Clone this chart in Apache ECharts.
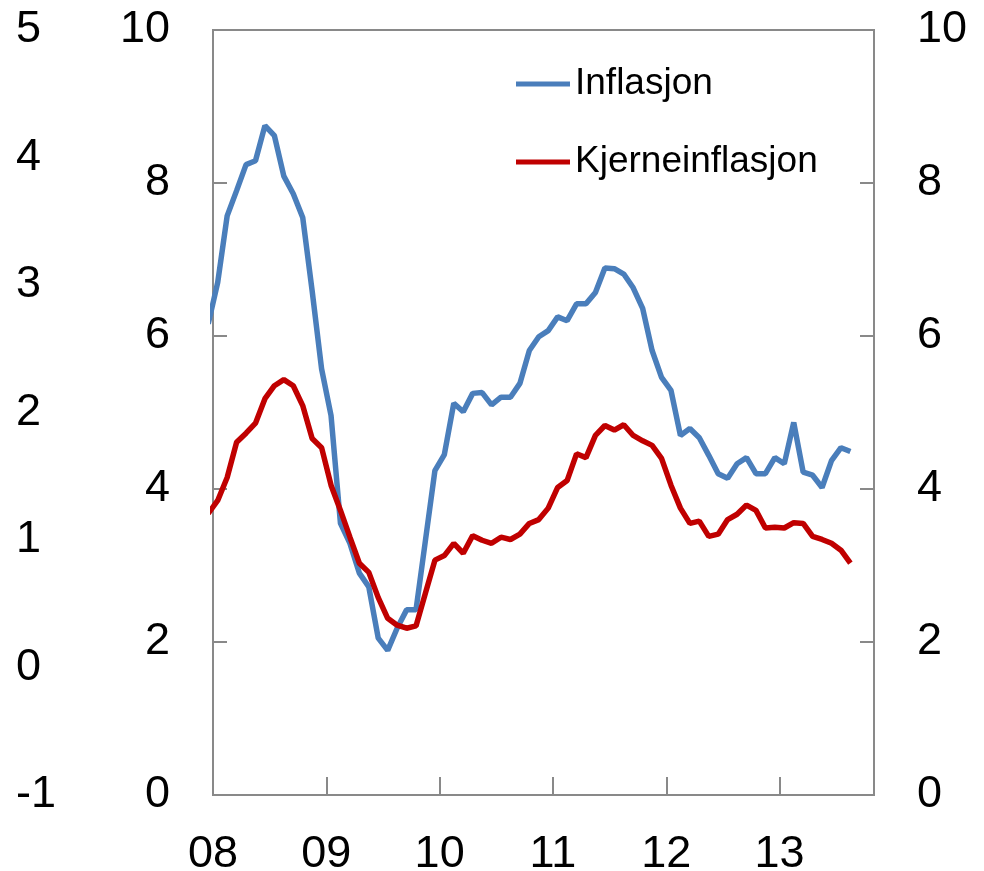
<!DOCTYPE html>
<html>
<head>
<meta charset="utf-8">
<script src="https://cdn.jsdelivr.net/npm/echarts@6/dist/echarts.min.js"></script>
<style>
html, body { margin: 0; padding: 0; background: #fff; }
#chart { width: 984px; height: 871px; }
</style>
</head>
<body>
<div id="chart"></div>
<script>
// årstall under x-aksen (en etikett per januar)
let aarEtiketter = ['08', '09', '10', '11', '12', '13'];

// månedlige tall fra des 2007 til aug 2013
let forsteMaaned = -1; // des 2007, målt i måneder fra jan 2008

let inflasjon = [
    6.16,
    6.70, 7.57, 7.90, 8.24, 8.29, 8.75, 8.62, 8.09, 7.86, 7.55, 6.59, 5.57,
    4.96, 3.55, 3.29, 2.90, 2.72, 2.05, 1.89, 2.18, 2.42, 2.42, 3.33, 4.24,
    4.45, 5.12, 5.01, 5.25, 5.26, 5.10, 5.20, 5.20, 5.38, 5.81, 5.99, 6.07,
    6.25, 6.20, 6.42, 6.42, 6.57, 6.89, 6.88, 6.81, 6.63, 6.36, 5.81, 5.46,
    5.29, 4.70, 4.79, 4.67, 4.44, 4.20, 4.14, 4.33, 4.41, 4.20, 4.20, 4.41,
    4.33, 4.87, 4.22, 4.18, 4.02, 4.37, 4.54, 4.49
];

let kjerneinflasjon = [
    3.68,
    3.85, 4.15, 4.61, 4.73, 4.86, 5.18, 5.35, 5.43, 5.35, 5.09, 4.66, 4.54,
    4.05, 3.72, 3.37, 3.03, 2.91, 2.58, 2.31, 2.22, 2.18, 2.21, 2.64, 3.07,
    3.13, 3.29, 3.16, 3.39, 3.33, 3.29, 3.37, 3.34, 3.41, 3.55, 3.60, 3.75,
    4.02, 4.11, 4.46, 4.41, 4.70, 4.83, 4.77, 4.84, 4.70, 4.63, 4.57, 4.40,
    4.05, 3.75, 3.55, 3.58, 3.38, 3.41, 3.60, 3.67, 3.79, 3.72, 3.49, 3.50,
    3.49, 3.56, 3.55, 3.38, 3.34, 3.29, 3.20, 3.03
];

let myChart;

// punktene ligger midt i måneden
function tilPunkter(verdier) {
    let punkter = [];
    for (let i = 0; i < verdier.length; i++) {
        punkter.push([forsteMaaned + i + 0.5, verdier[i]]);
    }
    return punkter;
}

let fontNavn = '"Liberation Sans", Arial, sans-serif';
let aksefarge = '#898989';

function tegnFigur() {
    myChart = echarts.init(document.getElementById('chart'));

    let option = {
        animation: false,
        textStyle: { fontFamily: fontNavn, color: '#000' },
        grid: {
            left: 213,
            right: 110,
            top: 30,
            bottom: 76,
            outerBoundsMode: 'none',
            containLabel: false,
            show: true,
            borderColor: aksefarge,
            borderWidth: 2
        },
        legend: {
            orient: 'vertical',
            left: 511,
            top: 58,
            itemWidth: 54,
            itemHeight: 5,
            itemGap: 36,
            icon: 'rect',
            data: ['Inflasjon', 'Kjerneinflasjon'],
            textStyle: { fontSize: 37, fontFamily: fontNavn, color: '#000', lineHeight: 42 }
        },
        xAxis: {
            type: 'value',
            min: 0,
            max: 70,
            interval: 12,
            splitLine: { show: false },
            axisLine: { lineStyle: { color: aksefarge, width: 2 } },
            axisTick: { inside: true, length: 18, lineStyle: { color: aksefarge, width: 2 } },
            axisLabel: {
                fontSize: 45,
                color: '#000',
                margin: 37,
                showMaxLabel: false,
                formatter: function (v) {
                    return v % 12 === 0 ? aarEtiketter[v / 12] : '';
                }
            }
        },
        yAxis: [
            {
                type: 'value',
                position: 'left',
                min: 0,
                max: 10,
                interval: 2,
                splitLine: { show: false },
                axisLine: { show: true, lineStyle: { color: aksefarge, width: 2 } },
                axisTick: { show: true, inside: true, length: 14, lineStyle: { color: aksefarge, width: 2 } },
                axisLabel: { fontSize: 45, color: '#000', margin: 43 }
            },
            {
                type: 'value',
                position: 'right',
                min: 0,
                max: 10,
                interval: 2,
                splitLine: { show: false },
                axisLine: { show: true, lineStyle: { color: aksefarge, width: 2 } },
                axisTick: { show: true, inside: true, length: 14, lineStyle: { color: aksefarge, width: 2 } },
                axisLabel: { fontSize: 45, color: '#000', margin: 43 }
            },
            {
                // ytterste venstre akse, bare tall
                type: 'value',
                position: 'left',
                offset: 150,
                min: -1,
                max: 5,
                interval: 1,
                splitLine: { show: false },
                axisLine: { show: false },
                axisTick: { show: false },
                axisLabel: { fontSize: 45, color: '#000', margin: 47, align: 'left' }
            }
        ],
        series: [
            {
                name: 'Inflasjon',
                type: 'line',
                data: tilPunkter(inflasjon),
                symbol: 'none',
                clip: true,
                itemStyle: { color: '#4a7ebb' },
                lineStyle: { color: '#4a7ebb', width: 5.5 }
            },
            {
                name: 'Kjerneinflasjon',
                type: 'line',
                data: tilPunkter(kjerneinflasjon),
                symbol: 'none',
                clip: true,
                itemStyle: { color: '#c00000' },
                lineStyle: { color: '#c00000', width: 5.5 }
            }
        ]
    };

    myChart.setOption(option);
}

tegnFigur();
</script>
</body>
</html>
